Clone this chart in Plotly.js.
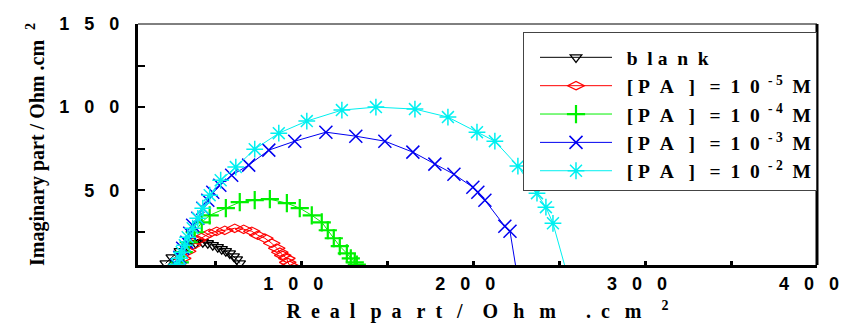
<!DOCTYPE html>
<html>
<head>
<meta charset="utf-8">
<script src="https://cdn.plot.ly/plotly-3.0.1.min.js"></script>
<style>html,body{margin:0;padding:0;background:#fff;}#chart{width:841px;height:324px;}</style>
</head>
<body>
<div id="chart"></div>
<script>
// Nyquist data (Real part, Imaginary part) in Ohm.cm2
const blankX = [21.1,24.6,29.3,33.9,38.6,42.7,45.6,48.5,51.4,53.7,56.1,58.4,60.7,62.5,64.2];
const blankY = [6.0,9.6,13.3,16.3,18.1,18.7,18.1,16.9,15.7,14.5,13.3,12.0,10.2,8.4,6.0];

const pa5X = [28.1,31.0,33.9,36.8,39.8,43.3,46.7,50.8,55.5,61.3,66.5,71.2,74.7,78.8,82.8,85.7,87.5,89.2,91.6,92.1,93.3];
const pa5Y = [4.8,9.0,13.3,16.9,19.9,22.3,24.1,25.3,25.9,27.1,26.5,25.3,22.9,21.1,18.1,15.1,12.7,10.8,9.0,6.6,4.8];

const pa4X = [29.3,31.6,34.5,38.0,42.1,46.7,56.1,64.2,72.9,81.7,91.6,99.1,106.1,111.9,115.4,118.9,122.4,126.5,128.8,131.1,132.3];
const pa4Y = [6.6,12.7,18.7,24.7,30.7,34.9,39.2,42.8,44.0,44.6,42.2,39.2,34.9,30.7,25.9,21.1,16.3,12.0,9.0,6.6,5.2];

const pa3X = [27.5,29.3,31.0,33.4,35.1,36.8,39.8,42.7,45.6,48.5,52.6,59.5,69.4,81.1,96.2,114.3,131.7,148.6,164.9,177.7,188.8,199.8,202.7,206.8,218.4,221.4,225.4];
const pa3Y = [4.8,9.6,15.1,18.7,24.1,28.9,33.1,39.2,44.0,48.8,53.0,59.0,65.1,74.1,79.5,84.9,82.5,79.5,72.9,65.7,59.6,51.8,48.8,44.0,28.3,25.3,0];

const pa2X = [27.5,29.3,30.4,32.2,33.9,36.8,39.8,42.7,46.7,53.1,61.9,72.9,86.9,103.2,123.6,143.4,166.1,185.3,202.2,212.6,226.0,237.1,242.3,246.4,254.5];
const pa2Y = [5.4,9.0,12.7,16.9,21.7,27.1,33.1,39.2,47.0,56.0,63.9,74.7,84.3,91.6,98.2,100.0,98.8,94.0,84.9,79.5,64.5,48.2,39.8,30.1,0];

const S = '\u00a0';
const sp = n => S.repeat(n);
const paName = e => sp(2) + '[' + sp(1) + 'P' + sp(2) + 'A' + sp(3) + ']' + sp(3) + '=' + sp(2) + '1' + sp(2) + '0' + sp(1) + '<sup>' + sp(1) + '-' + sp(1) + e + '</sup>' + sp(2) + 'M';
const seriesNames = [sp(2) + 'b' + sp(2) + 'l' + sp(1) + 'a' + sp(2) + 'n' + sp(2) + 'k', paName('5'), paName('4'), paName('3'), paName('2')];

const digits = s => s.split('').join(sp(3));
// tick positions; labelled ones carry text, the others are plain tick marks
const xTickVals = [50,100,150,200,250,300,350,400];
const xLabelled = [100,200,300,400];
const xTickText = xTickVals.map(v => xLabelled.includes(v) ? digits(String(v)) : '');
const yTickVals = [25,50,75,100,125,150];
const yLabelled = [50,100,150];
const yTickText = yTickVals.map(v => yLabelled.includes(v) ? digits(String(v)) : '');

const mk = (x, y, name, color, symbol, size, lw) => ({
  x: x, y: y, name: name, type: 'scatter', mode: 'lines+markers',
  line: {color: color, width: 1},
  marker: {symbol: symbol, size: size, color: color, line: {color: color, width: lw}}
});

const traces = [
  mk(blankX, blankY, seriesNames[0], '#000000', 'triangle-down-open', 10, 1.3),
  mk(pa5X, pa5Y, seriesNames[1], '#ff0000', 'diamond-wide-open', 12, 1.2),
  mk(pa4X, pa4Y, seriesNames[2], '#00f000', 'cross-thin-open', 13, 2.2),
  mk(pa3X, pa3Y, seriesNames[3], '#0000f0', 'x-thin-open', 13, 1.5),
  mk(pa2X, pa2Y, seriesNames[4], '#00f0f0', 'asterisk-open', 14, 1.5)
];

const sansBold = {family: 'Liberation Sans, Arial, sans-serif', size: 18, color: '#000', weight: 'bold'};
const serifBold = {family: 'Liberation Serif, Times New Roman, serif', size: 20, color: '#000', weight: 'bold'};

const xTitle = 'R' + sp(2) + 'e' + sp(2) + 'a' + sp(2) + 'l' + sp(3) + 'p' + sp(2) + 'a' + sp(3) + 'r' + sp(2) + 't' + sp(3) + '/' + sp(4) + 'O' + sp(3) + 'h' + sp(3) + 'm' + sp(6) + '.' + sp(2) + 'c' + sp(3) + 'm' + sp(4) + '<sup>2</sup>';

// plot area spans 138..817 px of a 703 px wide paper region (right margin 0)
const xDomainEnd = 679 / 703;

const layout = {
  width: 841, height: 324,
  margin: {l: 138, r: 0, t: 24, b: 59, autoexpand: false},
  paper_bgcolor: '#fff', plot_bgcolor: '#fff',
  showlegend: true,
  legend: {
    x: 385 / 703, y: 0.967, xanchor: 'left', yanchor: 'top',
    bgcolor: '#fff', bordercolor: '#444', borderwidth: 1,
    font: {family: 'Liberation Serif, Times New Roman, serif', size: 19.5, color: '#000', weight: 'bold'},
    itemwidth: 72, indentation: 11,
    title: {text: S, font: {size: 4}}
  },
  xaxis: {
    domain: [0, xDomainEnd],
    range: [5, 400], showgrid: false, zeroline: false,
    showline: true, linecolor: '#000', linewidth: 3,
    ticks: 'inside', ticklen: 4, tickwidth: 3, tickcolor: '#000',
    tickmode: 'array', tickvals: xTickVals, ticktext: xTickText, tickfont: sansBold,
    ticklabeloverflow: 'allow', ticklabelshift: -8,
    title: {text: xTitle, font: serifBold, standoff: 12}
  },
  yaxis: {
    range: [5, 150], showgrid: false, zeroline: false,
    showline: true, linecolor: '#000', linewidth: 3,
    ticks: 'inside', ticklen: 7, tickwidth: 2, tickcolor: '#000',
    tickmode: 'array', tickvals: yTickVals, ticktext: yTickText, tickfont: sansBold,
    ticklabelstandoff: 12,
    title: {text: 'Imaginary part / Ohm .cm' + sp(2) + '<sup>2</sup>' + sp(5), font: serifBold, standoff: 10}
  },
  shapes: [
    {type: 'line', xref: 'x domain', yref: 'y domain', x0: 0, x1: 1, y0: 1, y1: 1, line: {color: '#000', width: 1}, layer: 'above'},
    {type: 'line', xref: 'x domain', yref: 'y domain', x0: 1, x1: 1, y0: 0, y1: 1, line: {color: '#000', width: 3}, layer: 'above'}
  ]
};

Plotly.newPlot('chart', traces, layout, {displayModeBar: false, staticPlot: true});
</script>
</body>
</html>
